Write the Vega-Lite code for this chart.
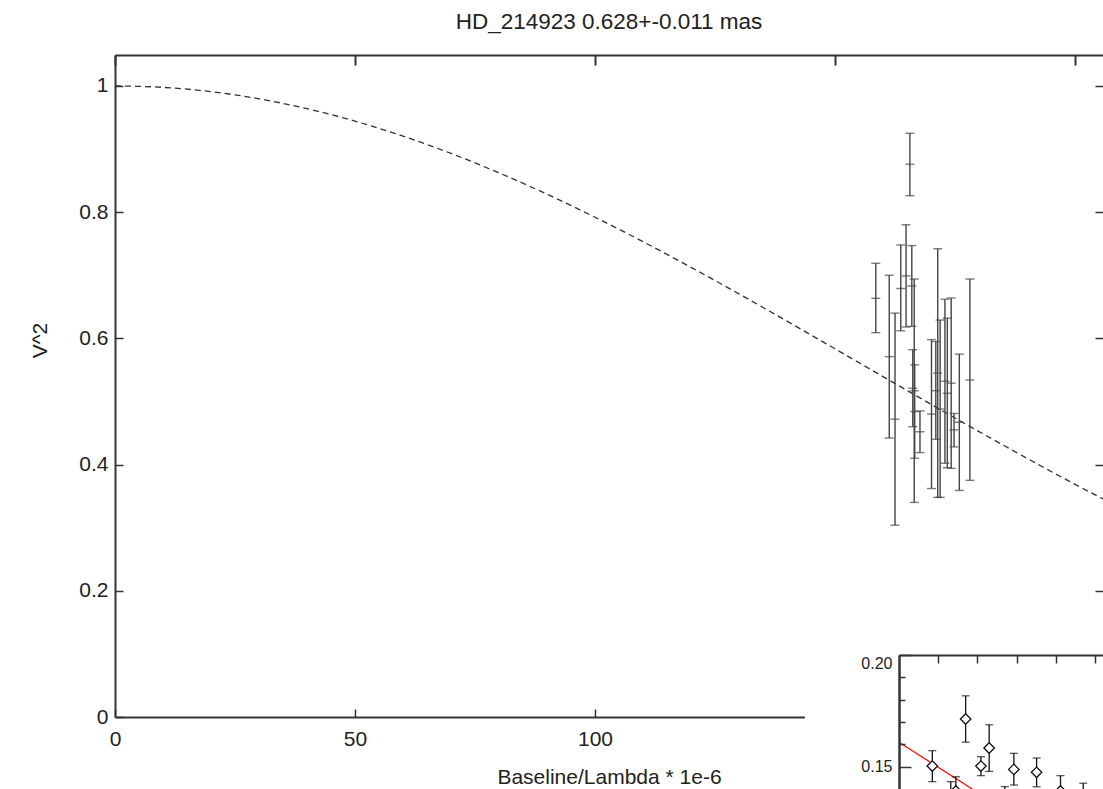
{
  "$schema": "https://vega.github.io/schema/vega-lite/v6.json",
  "width": 988,
  "height": 662,
  "autosize": {"type": "none"},
  "padding": {"left": 115, "top": 55, "right": 0, "bottom": 72},
  "background": "white",
  "title": {"text": "HD_214923 0.628+-0.011 mas", "anchor": "middle", "fontSize": 22.5, "font": "Liberation Sans", "fontWeight": "normal", "color": "#222", "offset": 21},
  "config": {
    "view": {"stroke": null},
    "axis": {"grid": false, "domainColor": "#333", "domainWidth": 2, "tickColor": "#333", "tickWidth": 1.5, "labelFont": "Liberation Sans", "labelFontSize": 21, "labelColor": "#222", "titleFont": "Liberation Sans", "titleFontWeight": "normal", "titleFontSize": 21, "titleColor": "#222"}
  },
  "datasets": {
    "curve": [
      {"b": 0, "v2": 1.0}, {"b": 10, "v2": 0.997715}, {"b": 20, "v2": 0.990886}, {"b": 30, "v2": 0.979591},
      {"b": 40, "v2": 0.963958}, {"b": 50, "v2": 0.944164}, {"b": 60, "v2": 0.920431}, {"b": 70, "v2": 0.893025},
      {"b": 80, "v2": 0.862247}, {"b": 90, "v2": 0.828434}, {"b": 100, "v2": 0.79195}, {"b": 110, "v2": 0.753181},
      {"b": 120, "v2": 0.712531}, {"b": 130, "v2": 0.670412}, {"b": 140, "v2": 0.627243}, {"b": 150, "v2": 0.583443},
      {"b": 160, "v2": 0.539418}, {"b": 170, "v2": 0.495568}, {"b": 180, "v2": 0.452268}, {"b": 190, "v2": 0.409877},
      {"b": 200, "v2": 0.368721}, {"b": 210, "v2": 0.329098}
    ],
    "main": [
      {"b": 158.5, "v": 0.6635, "lo": 0.609, "hi": 0.719},
      {"b": 161.3, "v": 0.571, "lo": 0.442, "hi": 0.700},
      {"b": 162.5, "v": 0.472, "lo": 0.304, "hi": 0.640},
      {"b": 163.7, "v": 0.679, "lo": 0.612, "hi": 0.748},
      {"b": 164.8, "v": 0.699, "lo": 0.618, "hi": 0.780},
      {"b": 165.6, "v": 0.876, "lo": 0.826, "hi": 0.925},
      {"b": 166.0, "v": 0.683, "lo": 0.619, "hi": 0.747},
      {"b": 166.5, "v": 0.517, "lo": 0.340, "hi": 0.694},
      {"b": 166.2, "v": 0.521, "lo": 0.460, "hi": 0.582},
      {"b": 166.6, "v": 0.484, "lo": 0.410, "hi": 0.558},
      {"b": 167.7, "v": 0.452, "lo": 0.419, "hi": 0.485},
      {"b": 170.1, "v": 0.480, "lo": 0.362, "hi": 0.598},
      {"b": 171.0, "v": 0.517, "lo": 0.440, "hi": 0.595},
      {"b": 171.4, "v": 0.545, "lo": 0.348, "hi": 0.742},
      {"b": 171.9, "v": 0.488, "lo": 0.348, "hi": 0.629},
      {"b": 172.9, "v": 0.532, "lo": 0.402, "hi": 0.662},
      {"b": 173.4, "v": 0.513, "lo": 0.395, "hi": 0.632},
      {"b": 174.2, "v": 0.529, "lo": 0.394, "hi": 0.664},
      {"b": 174.8, "v": 0.455, "lo": 0.428, "hi": 0.481},
      {"b": 175.9, "v": 0.467, "lo": 0.359, "hi": 0.575},
      {"b": 178.1, "v": 0.534, "lo": 0.375, "hi": 0.694}
    ],
    "box": [{"x1": -2.4, "x2": 6.5, "y1": 0.2067, "y2": 0.05}],
    "fit": [{"x": 0, "y": 0.1609}, {"x": 5.5, "y": 0.0991}],
    "inset": [
      {"x": 0.85, "v": 0.1502, "lo": 0.1432, "hi": 0.1571},
      {"x": 1.32, "v": 0.137, "lo": 0.131, "hi": 0.1432},
      {"x": 1.45, "v": 0.139, "lo": 0.1326, "hi": 0.1454},
      {"x": 1.70, "v": 0.1713, "lo": 0.1609, "hi": 0.1817},
      {"x": 2.09, "v": 0.1502, "lo": 0.1459, "hi": 0.1544},
      {"x": 2.30, "v": 0.1583, "lo": 0.1478, "hi": 0.1687},
      {"x": 2.70, "v": 0.135, "lo": 0.129, "hi": 0.141},
      {"x": 2.93, "v": 0.1487, "lo": 0.1417, "hi": 0.1559},
      {"x": 3.51, "v": 0.1474, "lo": 0.1409, "hi": 0.1538},
      {"x": 4.12, "v": 0.139, "lo": 0.132, "hi": 0.1459},
      {"x": 4.70, "v": 0.136, "lo": 0.129, "hi": 0.1425}
    ]
  },
  "resolve": {"scale": {"x": "independent", "y": "independent"}, "axis": {"x": "independent", "y": "independent"}},
  "layer": [
    {
      "data": {"name": "curve"},
      "mark": {"type": "line", "color": "#333", "strokeWidth": 1.3, "strokeDash": [6, 4], "interpolate": "monotone", "clip": true},
      "encoding": {
        "x": {"field": "b", "type": "quantitative", "scale": {"domain": [0, 205.83], "nice": false, "zero": false},
              "axis": {"orient": "bottom", "values": [0, 50, 100, 150, 200], "tickSize": -8, "labelPadding": 19, "labelFlush": false, "title": "Baseline/Lambda * 1e-6", "titleBaseline": "alphabetic", "titleY": 66}},
        "y": {"field": "v2", "type": "quantitative", "scale": {"domain": [0, 1.049], "nice": false, "zero": false},
              "axis": {"orient": "left", "values": [0, 0.2, 0.4, 0.6, 0.8, 1], "format": "~g", "tickSize": -8, "labelPadding": 15, "title": "V^2", "titleX": -75, "titleY": 285, "titleBaseline": "middle", "titleAngle": -90}}
      }
    },
    {
      "data": {"name": "main"},
      "mark": {"type": "rule", "color": "#444", "strokeWidth": 1.4},
      "encoding": {
        "x": {"field": "b", "type": "quantitative", "scale": {"domain": [0, 205.83], "nice": false, "zero": false},
              "axis": {"orient": "top", "values": [0, 50, 100, 150, 200], "tickSize": -10, "tickWidth": 2, "labels": false, "title": null}},
        "y": {"field": "lo", "type": "quantitative", "scale": {"domain": [0, 1.049], "nice": false, "zero": false},
              "axis": {"orient": "right", "values": [0, 0.2, 0.4, 0.6, 0.8, 1], "tickSize": -8, "labels": false, "domain": false, "title": null}},
        "y2": {"field": "hi"}
      }
    },
    {
      "data": {"name": "main"},
      "mark": {"type": "tick", "orient": "horizontal", "color": "#444", "size": 9, "thickness": 1.4},
      "encoding": {
        "x": {"field": "b", "type": "quantitative", "scale": {"domain": [0, 205.83], "nice": false, "zero": false}, "axis": null},
        "y": {"field": "lo", "type": "quantitative", "scale": {"domain": [0, 1.049], "nice": false, "zero": false}, "axis": null}
      }
    },
    {
      "data": {"name": "main"},
      "mark": {"type": "tick", "orient": "horizontal", "color": "#444", "size": 9, "thickness": 1.4},
      "encoding": {
        "x": {"field": "b", "type": "quantitative", "scale": {"domain": [0, 205.83], "nice": false, "zero": false}, "axis": null},
        "y": {"field": "v", "type": "quantitative", "scale": {"domain": [0, 1.049], "nice": false, "zero": false}, "axis": null}
      }
    },
    {
      "data": {"name": "main"},
      "mark": {"type": "tick", "orient": "horizontal", "color": "#444", "size": 9, "thickness": 1.4},
      "encoding": {
        "x": {"field": "b", "type": "quantitative", "scale": {"domain": [0, 205.83], "nice": false, "zero": false}, "axis": null},
        "y": {"field": "hi", "type": "quantitative", "scale": {"domain": [0, 1.049], "nice": false, "zero": false}, "axis": null}
      }
    },
    {
      "data": {"name": "box"},
      "mark": {"type": "rect", "color": "white", "opacity": 1},
      "encoding": {
        "x": {"field": "x1", "type": "quantitative", "scale": {"domain": [0, 5.5], "range": [784, 999.6], "nice": false, "zero": false}, "axis": null},
        "x2": {"field": "x2"},
        "y": {"field": "y1", "type": "quantitative", "scale": {"domain": [0.10, 0.20], "range": [823, 600], "nice": false, "zero": false}, "axis": null},
        "y2": {"field": "y2"}
      }
    },
    {
      "data": {"name": "fit"},
      "mark": {"type": "line", "color": "#ff0000", "strokeWidth": 1.2},
      "encoding": {
        "x": {"field": "x", "type": "quantitative", "scale": {"domain": [0, 5.5], "range": [784, 999.6], "nice": false, "zero": false},
              "axis": {"orient": "top", "offset": -600, "values": [1, 2, 3, 4, 5], "tickSize": -8, "labels": false, "title": null, "zindex": 2}},
        "y": {"field": "y", "type": "quantitative", "scale": {"domain": [0.10, 0.20], "range": [823, 600], "nice": false, "zero": false},
              "axis": {"orient": "left", "offset": -784, "values": [0.16, 0.17, 0.18, 0.19], "tickSize": -6, "labels": false, "title": null, "zindex": 2}}
      }
    },
    {
      "data": {"name": "inset"},
      "mark": {"type": "rule", "color": "#111", "strokeWidth": 1.3},
      "encoding": {
        "x": {"field": "x", "type": "quantitative", "scale": {"domain": [0, 5.5], "range": [784, 999.6], "nice": false, "zero": false}, "axis": null},
        "y": {"field": "lo", "type": "quantitative", "scale": {"domain": [0.10, 0.20], "range": [823, 600], "nice": false, "zero": false},
              "axis": {"orient": "left", "offset": -784, "values": [0.15, 0.2], "format": ".2f", "tickSize": -12, "labelPadding": 19, "labelFontSize": 16, "labelFlush": true, "title": null, "zindex": 2}},
        "y2": {"field": "hi"}
      }
    },
    {
      "data": {"name": "inset"},
      "mark": {"type": "tick", "orient": "horizontal", "color": "#111", "size": 8, "thickness": 1.3},
      "encoding": {
        "x": {"field": "x", "type": "quantitative", "scale": {"domain": [0, 5.5], "range": [784, 999.6], "nice": false, "zero": false}, "axis": null},
        "y": {"field": "lo", "type": "quantitative", "scale": {"domain": [0.10, 0.20], "range": [823, 600], "nice": false, "zero": false}, "axis": null}
      }
    },
    {
      "data": {"name": "inset"},
      "mark": {"type": "tick", "orient": "horizontal", "color": "#111", "size": 8, "thickness": 1.3},
      "encoding": {
        "x": {"field": "x", "type": "quantitative", "scale": {"domain": [0, 5.5], "range": [784, 999.6], "nice": false, "zero": false}, "axis": null},
        "y": {"field": "hi", "type": "quantitative", "scale": {"domain": [0.10, 0.20], "range": [823, 600], "nice": false, "zero": false}, "axis": null}
      }
    },
    {
      "data": {"name": "inset"},
      "mark": {"type": "point", "shape": "diamond", "filled": true, "fill": "white", "stroke": "#111", "strokeWidth": 1.3, "size": 110, "opacity": 1},
      "encoding": {
        "x": {"field": "x", "type": "quantitative", "scale": {"domain": [0, 5.5], "range": [784, 999.6], "nice": false, "zero": false}, "axis": null},
        "y": {"field": "v", "type": "quantitative", "scale": {"domain": [0.10, 0.20], "range": [823, 600], "nice": false, "zero": false}, "axis": null}
      }
    }
  ]
}
